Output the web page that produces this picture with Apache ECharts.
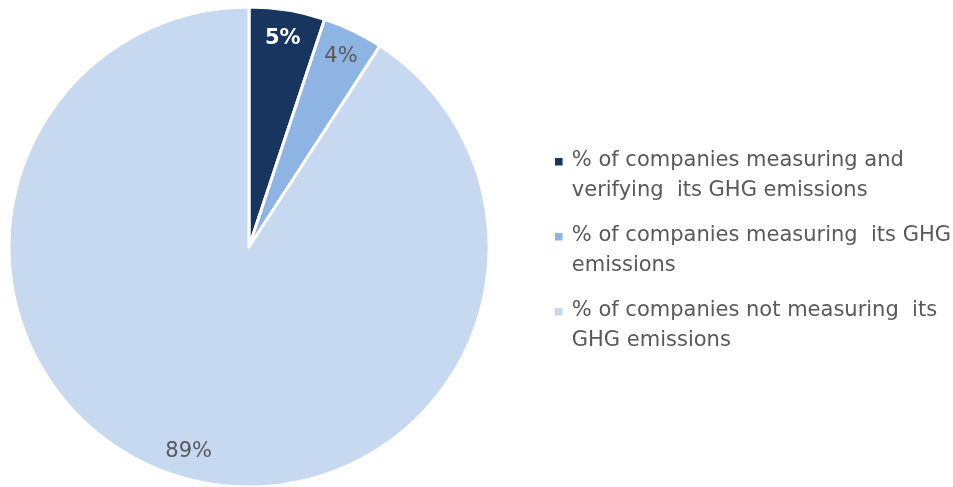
<!DOCTYPE html>
<html>
<head>
<meta charset="utf-8">
<script src="https://cdn.jsdelivr.net/npm/echarts@6/dist/echarts.min.js"></script>
<style>
  html, body { margin: 0; padding: 0; background: #ffffff; }
  #chart { width: 953px; height: 487px; }
</style>
</head>
<body>
<div id="chart"></div>
<script>
// GHG emissions measurement among companies (percent)
const categories = [
  '% of companies measuring and\nverifying  its GHG emissions',
  '% of companies measuring  its GHG\nemissions',
  '% of companies not measuring  its\nGHG emissions'
];
const values = [5, 4, 89];
const sliceColors = ['#17355e', '#8db4e2', '#c6d9f0'];
const labelColors = ['#ffffff', '#595959', '#595959'];
const labelWeights = ['bold', 'normal', 'normal'];

const FONT = '"DejaVu Sans", "Open Sans", sans-serif';

const pieData = categories.map((name, i) => ({
  name,
  value: values[i],
  itemStyle: { color: sliceColors[i] }
}));

// label ring: transparent slices that only carry the value labels near the rim
const labelData = categories.map((name, i) => ({
  name,
  value: values[i],
  label: { color: labelColors[i], fontWeight: labelWeights[i] }
}));

// square marker aligned with the first text line of each two-line legend entry
const legendIcon = 'path://M0,0H8V8H0Z M0,37.9H0.1V38H0Z';

const chart = echarts.init(document.getElementById('chart'), null, { renderer: 'canvas' });
chart.setOption({
  backgroundColor: '#ffffff',
  animation: false,
  legend: {
    orient: 'vertical',
    left: 555,
    top: 146,
    padding: 0,
    icon: legendIcon,
    itemWidth: 8,
    itemHeight: 36,
    itemGap: 15,
    selectedMode: false,
    itemStyle: { borderWidth: 0 },
    textStyle: {
      fontFamily: FONT,
      fontSize: 21,
      color: '#595959',
      lineHeight: 30,
      padding: [0, 0, 0, 4]
    },
    data: categories
  },
  series: [
    {
      type: 'pie',
      center: [249, 247],
      radius: [0, 240],
      startAngle: 90,
      clockwise: true,
      silent: true,
      label: { show: false },
      labelLine: { show: false },
      itemStyle: { borderColor: '#ffffff', borderWidth: 3 },
      data: pieData
    },
    {
      type: 'pie',
      center: [249, 248],
      radius: [178, 240],
      startAngle: 90,
      clockwise: true,
      silent: true,
      itemStyle: { color: 'rgba(0,0,0,0)' },
      label: {
        show: true,
        position: 'inside',
        formatter: '{c}%',
        fontFamily: FONT,
        fontSize: 21
      },
      labelLine: { show: false },
      data: labelData
    }
  ]
});
</script>
</body>
</html>
